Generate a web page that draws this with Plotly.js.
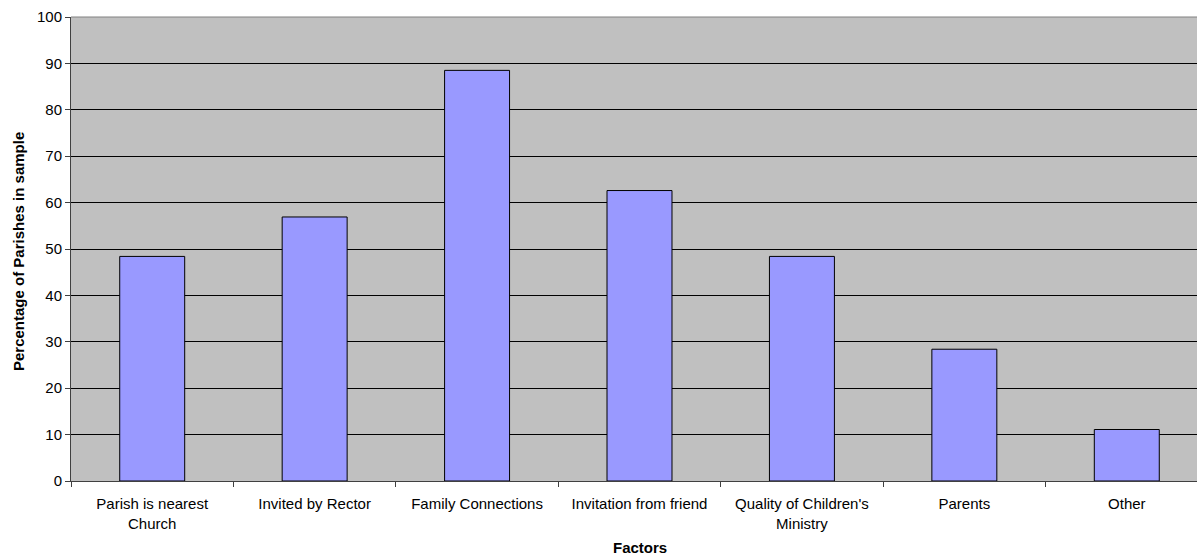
<!DOCTYPE html>
<html>
<head>
<meta charset="utf-8">
<script src="https://cdn.plot.ly/plotly-3.0.1.min.js"></script>
<style>
  html, body { margin: 0; padding: 0; background: #ffffff; overflow: hidden; }
  #frame { width: 1197px; height: 555px; overflow: hidden; }
  #chart { width: 1208px; height: 555px; }
</style>
</head>
<body>
<div id="frame"><div id="chart"></div></div>
<script>
// Factors that drew families to the parish
const factors = [
  "Parish is nearest<br>Church",
  "Invited by Rector",
  "Family Connections",
  "Invitation from friend",
  "Quality of Children's<br>Ministry",
  "Parents",
  "Other"
];
const percentages = [48.4, 56.9, 88.5, 62.6, 48.4, 28.4, 11.1];
const yTicks = [0, 10, 20, 30, 40, 50, 60, 70, 80, 90, 100];
const xTitle = "Factors";
const yTitle = "Percentage of Parishes in sample";

const font = "Liberation Sans, Arial, sans-serif";
const textFont = { family: font, size: 15, color: "#000000" };

// The plot area runs slightly past the visible frame on the right.
Plotly.newPlot("chart", [{
  type: "bar",
  x: factors,
  y: percentages,
  marker: { color: "#9999FF", line: { color: "#000000", width: 1 } },
  hoverinfo: "x+y"
}], {
  width: 1208,
  height: 555,
  margin: { l: 71, r: 0, t: 17, b: 74 },
  paper_bgcolor: "#ffffff",
  plot_bgcolor: "#C0C0C0",
  bargap: 0.6,
  showlegend: false,
  font: textFont,
  xaxis: {
    type: "category",
    tickson: "boundaries",
    ticks: "outside",
    ticklen: 5,
    tickcolor: "#404040",
    showgrid: false,
    showline: true,
    linecolor: "#404040",
    linewidth: 1,
    ticklabelstandoff: 9,
    tickfont: textFont
  },
  yaxis: {
    range: [0, 100],
    tickvals: yTicks,
    ticks: "outside",
    ticklen: 5,
    tickcolor: "#404040",
    showline: true,
    linecolor: "#404040",
    linewidth: 1,
    showgrid: true,
    gridcolor: "#000000",
    gridwidth: 1,
    zeroline: false,
    tickfont: textFont
  },
  annotations: [
    {
      text: "<b>" + xTitle + "</b>", showarrow: false,
      xref: "paper", yref: "paper", x: 0.5, y: 0,
      xanchor: "center", yanchor: "middle", xshift: 0, yshift: -66,
      font: textFont
    },
    {
      text: "<b>" + yTitle + "</b>", showarrow: false, textangle: -90,
      xref: "paper", yref: "paper", x: 0, y: 0.5,
      xanchor: "center", yanchor: "middle", xshift: -53, yshift: -3,
      font: textFont
    }
  ],
  shapes: [{
    type: "line", xref: "paper", yref: "paper",
    x0: 0, x1: 1, y0: 1, y1: 1,
    line: { color: "#808080", width: 1 }
  }]
}, { displayModeBar: false, staticPlot: true });
</script>
</body>
</html>
